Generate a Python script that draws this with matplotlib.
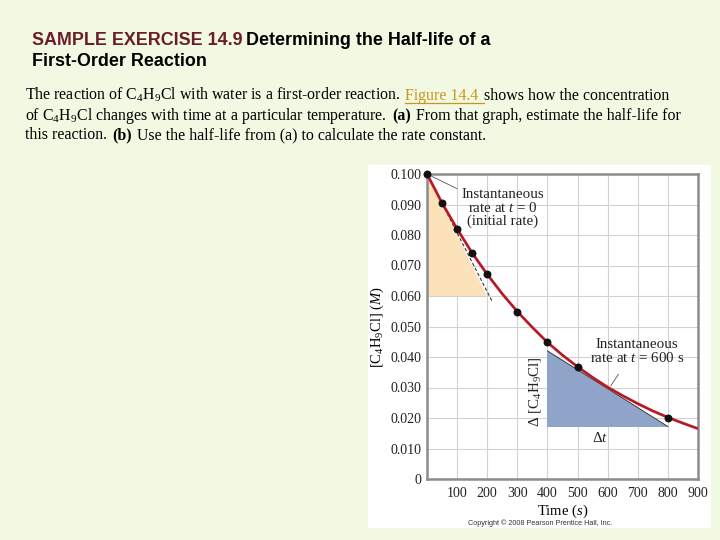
import matplotlib
matplotlib.use("Agg")
import matplotlib.pyplot as plt
from matplotlib.patches import Polygon, Rectangle

plt.rcParams['font.family'] = ['Liberation Serif', 'DejaVu Serif']
plt.rcParams['mathtext.fontset'] = 'custom'
plt.rcParams['mathtext.rm'] = 'Liberation Serif'
plt.rcParams['mathtext.it'] = 'Liberation Serif:italic'
plt.rcParams['mathtext.default'] = 'regular'

# measured concentrations of C4H9Cl (figure 14.4)
time_pts = [0, 50, 100, 150, 200, 300, 400, 500, 800]
conc_pts = [0.1000, 0.0905, 0.0820, 0.0741, 0.0671, 0.0549, 0.0448, 0.0368, 0.0200]

# smooth red curve
curve_t = [0, 50, 100, 150, 200, 250, 300, 350, 400, 450, 500, 550, 600,
           650, 700, 750, 800, 850, 900]
curve_c = [0.1000, 0.0905, 0.0820, 0.0741, 0.0671, 0.0607, 0.0549, 0.0497,
           0.0448, 0.0406, 0.0368, 0.0333, 0.0301, 0.0273, 0.0247, 0.0223,
           0.0202, 0.0183, 0.0165]

# tangent at t = 0 and shaded triangle
tan0_t = [0, 215]
tan0_c = [0.100, 0.0585]
orange_tri = [(0, 0.100), (0, 0.060), (200, 0.060)]

# tangent at t = 600 s and shaded triangle
blue_tri = [(400, 0.042), (400, 0.0172), (800, 0.0172)]

x_ticks = [100, 200, 300, 400, 500, 600, 700, 800, 900]
y_ticks = [0, 0.010, 0.020, 0.030, 0.040, 0.050, 0.060, 0.070, 0.080, 0.090, 0.100]
y_labels = ['0', '0.010', '0.020', '0.030', '0.040', '0.050', '0.060',
            '0.070', '0.080', '0.090', '0.100']

W, H = 720, 540
BG = '#f2f9e3'

fig = plt.figure(figsize=(7.2, 5.4), dpi=100, facecolor=BG)


def fx(x):
    return x / W


def fy(y):
    return 1 - y / H


# white box that holds the textbook figure
fig.patches.append(Rectangle((fx(368), fy(528)), 343 / W, 363 / H,
                             transform=fig.transFigure, facecolor='white',
                             edgecolor='none', zorder=-5))

r = fig.canvas.get_renderer()


def text_line(x, y, parts, size, family, gap):
    cur = x
    for s, kw in parts:
        underline = kw.pop('underline', False)
        t = fig.text(fx(cur), fy(y), s, va='baseline', ha='left',
                     fontsize=size, family=family, **kw)
        bb = t.get_window_extent(renderer=r)
        if underline:
            fig.lines.append(plt.Line2D([fx(bb.x0), fx(bb.x1 + gap)],
                                        [fy(y + 2.5), fy(y + 2.5)],
                                        transform=fig.transFigure,
                                        color=kw.get('color', 'k'), lw=0.9))
        cur = bb.x1 + gap


maroon = '#6b1d2c'
sans = ['Liberation Sans', 'DejaVu Sans']
text_line(32, 45, [("SAMPLE EXERCISE 14.9", dict(color=maroon, fontweight='bold')),
                   ("Determining the Half-life of a", dict(color='black', fontweight='bold'))],
          12.9, sans, 4)
text_line(32, 66, [("First-Order Reaction", dict(color='black', fontweight='bold'))],
          12.9, sans, 4)

serif = ['Liberation Serif', 'DejaVu Serif']
gap = 5
text_line(25, 100, [("The reaction of C$_4$H$_9$Cl with water is a first-order reaction.", {}),
                    ("Figure 14.4", dict(color='#c8961e', underline=True)),
                    ("shows how the concentration", {})], 11.4, serif, gap)
text_line(25, 120, [("of C$_4$H$_9$Cl changes with time at a particular temperature.", {}),
                    ("(a)", dict(fontweight='bold')),
                    ("From that graph, estimate the half-life for", {})], 11.4, serif, gap)
text_line(25, 139, [("this reaction.", {}),
                    ("(b)", dict(fontweight='bold')),
                    ("Use the half-life from (a) to calculate the rate constant.", {})],
          11.4, serif, gap)

# chart axes
ax = fig.add_axes([fx(427), fy(479), (698 - 427) / W, (479 - 174) / H])
ax.set_facecolor('white')
ax.set_xlim(0, 900)
ax.set_ylim(0, 0.100)

ax.add_patch(Polygon(orange_tri, closed=True, facecolor='#fbe2bb',
                     edgecolor='none', zorder=1))
ax.add_patch(Polygon(blue_tri, closed=True, facecolor='#8fa4c8',
                     edgecolor='none', zorder=1))
ax.plot([blue_tri[0][0], blue_tri[2][0]], [blue_tri[0][1], blue_tri[2][1]],
        color='#333333', lw=0.7, zorder=2)
ax.plot(tan0_t, tan0_c, color='#333333', lw=0.8, ls=(0, (3, 2)), zorder=2)

ax.plot(curve_t, curve_c, color='#c4202e', lw=2.0, zorder=3, solid_capstyle='butt')
ax.plot(curve_t, curve_c, color='#7a1020', lw=0.6, zorder=3, alpha=0.5)
ax.scatter(time_pts, conc_pts, s=22, color='#111111', zorder=4, clip_on=False)

ax.set_xticks(x_ticks)
ax.set_yticks(y_ticks)
ax.set_yticklabels(y_labels)
ax.tick_params(length=0, labelsize=10, colors='#222222')
ax.tick_params(axis='y', pad=4)
ax.tick_params(axis='x', pad=6)
ax.grid(True, color='#d2d2d2', lw=0.8)
ax.set_axisbelow(True)
for sp in ax.spines.values():
    sp.set_color('#8c8c8c')
    sp.set_linewidth(1.8)

ax.set_xlabel('Time ($\\mathit{s}$)', fontsize=10.5, labelpad=2)
ax.set_ylabel('[C$_4$H$_9$Cl] ($\\mathit{M}$)', fontsize=10.5, labelpad=3)

ax.annotate('', xy=(0, 0.1), xytext=(108, 0.0948),
            arrowprops=dict(arrowstyle='-', color='#555555', lw=0.6))
ax.text(252, 0.0889, 'Instantaneous\nrate at $\\mathit{t}$ = 0\n(initial rate)',
        ha='center', va='center', fontsize=10.8, linespacing=1.0, color='#222222')
ax.annotate('', xy=(605, 0.0298), xytext=(641, 0.0351),
            arrowprops=dict(arrowstyle='-', color='#555555', lw=0.6))
ax.text(697, 0.0418, 'Instantaneous\nrate at $\\mathit{t}$ = 600 s',
        ha='center', va='center', fontsize=10.8, linespacing=1.0, color='#222222')
ax.text(359, 0.0285, '\u0394 [C$_4$H$_9$Cl]', rotation=90, ha='center',
        va='center', fontsize=10.8, color='#222222')
ax.text(575, 0.0134, '\u0394$\\mathit{t}$', ha='center', va='center',
        fontsize=10.8, color='#222222')

fig.text(fx(540), fy(523), 'Copyright \u00a9 2008 Pearson Prentice Hall, Inc.',
         ha='center', va='center', fontsize=5.2, family=sans, color='#333333')

fig.savefig('out.png', dpi=100, facecolor=BG)
